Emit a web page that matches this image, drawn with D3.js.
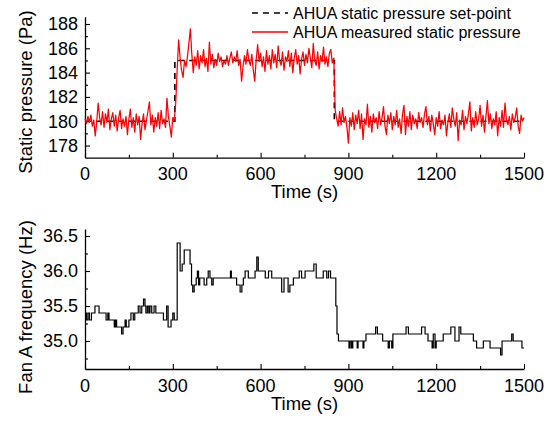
<!DOCTYPE html>
<html><head><meta charset="utf-8">
<script src="https://cdn.jsdelivr.net/npm/d3@7"></script>
<style>
body{margin:0;background:#fff;}
svg{display:block;font-family:"Liberation Sans",Arial,sans-serif;}
</style></head>
<body><svg id="c" width="555" height="421"></svg>
<script>
// ---- data ----
const spTime = [0, 307, 307, 852, 852, 1500];
const spValue = [180, 180, 185, 185, 180, 180];

const pTime = [
0,5,10,15,20,25,30,35,40,45,50,55,60,65,70,75,80,85,90,95,
100,105,110,115,120,125,130,135,140,145,150,155,160,165,170,175,180,185,190,195,
200,205,210,215,220,225,230,235,240,245,250,255,260,265,270,275,280,285,290,295,
300,305,310,315,320,325,330,335,340,345,350,355,360,365,370,375,380,385,390,395,
400,405,410,415,420,425,430,435,440,445,450,455,460,465,470,475,480,485,490,495,
500,505,510,515,520,525,530,535,540,545,550,555,560,565,570,575,580,585,590,595,
600,605,610,615,620,625,630,635,640,645,650,655,660,665,670,675,680,685,690,695,
700,705,710,715,720,725,730,735,740,745,750,755,760,765,770,775,780,785,790,795,
800,805,810,815,820,825,830,835,840,845,850,855,860,865,870,875,880,885,890,895,
900,905,910,915,920,925,930,935,940,945,950,955,960,965,970,975,980,985,990,995,
1000,1005,1010,1015,1020,1025,1030,1035,1040,1045,1050,1055,1060,1065,1070,1075,1080,1085,1090,1095,
1100,1105,1110,1115,1120,1125,1130,1135,1140,1145,1150,1155,1160,1165,1170,1175,1180,1185,1190,1195,
1200,1205,1210,1215,1220,1225,1230,1235,1240,1245,1250,1255,1260,1265,1270,1275,1280,1285,1290,1295,
1300,1305,1310,1315,1320,1325,1330,1335,1340,1345,1350,1355,1360,1365,1370,1375,1380,1385,1390,1395,
1400,1405,1410,1415,1420,1425,1430,1435,1440,1445,1450,1455,1460,1465,1470,1475,1480,1485,1490,1495,
1500];
const pValue = [
180.2,179.8,180.4,179.9,180.5,179.6,180.1,178.8,179.9,181.5,
180.3,179.7,180.8,179.5,180.6,179.9,181.0,179.3,180.2,180.7,
179.6,180.5,179.2,180.3,180.9,179.4,180.2,179.6,180.4,178.9,
180.2,181.0,179.5,180.3,179.1,180.6,179.7,180.4,178.5,179.8,
180.6,179.3,180.1,180.8,181.6,179.7,180.5,179.1,180.3,179.6,
180.7,179.4,180.9,179.8,180.2,179.5,181.9,180.4,179.6,178.7,
180.3,180.1,181.5,184.3,186.7,185.2,184.2,183.6,185.0,184.5,
185.3,186.4,187.6,185.5,184.0,185.3,184.6,185.8,184.3,185.4,
184.8,185.9,184.5,185.2,184.1,186.5,184.7,185.5,184.4,185.1,
184.6,185.6,184.9,185.3,184.5,185.0,184.7,185.4,184.6,185.2,
185.7,184.8,185.3,184.9,185.8,184.6,185.1,183.3,184.5,185.4,
184.7,185.9,185.0,184.6,185.5,184.2,183.3,185.1,186.3,184.9,
185.6,184.5,185.3,184.1,185.8,184.7,185.4,184.3,185.9,184.8,
185.5,184.4,186.2,185.0,184.6,185.7,184.2,185.3,184.9,185.8,
184.5,185.6,184.0,185.2,185.9,184.7,185.4,183.9,185.1,185.7,
184.6,185.5,184.8,186.0,185.2,184.4,186.4,185.0,184.6,185.7,
184.3,185.4,184.9,186.1,184.7,185.3,184.5,185.6,185.9,184.8,
185.2,180.9,180.2,179.6,180.8,179.7,181.1,179.9,180.4,179.5,
178.2,180.3,179.6,180.7,179.3,180.5,179.8,180.9,179.4,180.6,
178.5,180.2,179.7,181.4,179.5,180.4,179.1,180.6,179.9,180.3,
179.4,180.8,179.7,180.3,181.2,179.6,178.9,180.5,179.8,180.7,
179.3,180.4,179.7,180.9,179.5,180.2,179.0,180.6,181.3,178.9,
180.4,179.6,180.8,179.3,180.5,179.8,180.2,179.4,180.7,179.9,
180.3,179.5,180.6,181.2,179.7,180.4,179.2,180.5,179.8,178.9,
180.3,179.6,180.8,179.4,180.1,179.7,180.5,178.8,179.9,180.6,
179.5,181.1,180.2,179.6,180.7,178.4,180.1,179.7,180.9,179.3,
180.4,179.8,180.6,181.6,179.2,180.3,179.5,180.8,179.7,180.2,
181.3,179.6,180.5,179.1,180.4,181.7,179.8,180.6,179.4,180.2,
179.7,180.8,178.8,180.3,179.6,180.9,179.5,181.5,180.1,179.7,
180.4,179.3,180.6,179.9,180.3,181.1,179.6,179.0,180.5,180.0,
180.3];

const fTime = [0,5,10,15,22,34,48,72,78,82,100,104,108,125,130,137,141,150,157,165,170,182,188,194,200,205,208,213,218,222,228,236,242,268,279,284,294,300,305,315,325,332,339,359,364,368,373,380,384,388,392,407,416,421,427,433,438,497,500,518,530,536,541,547,558,581,587,592,616,627,638,672,680,694,700,712,732,740,752,782,790,814,826,832,839,857,861,866,902,906,911,915,930,933,950,953,960,993,999,1017,1036,1040,1048,1052,1097,1105,1150,1162,1172,1186,1190,1196,1200,1224,1250,1264,1278,1284,1327,1338,1361,1384,1420,1425,1458,1463,1493,1500];
const fValue = [35.4,35.3,35.4,35.3,35.4,35.5,35.4,35.3,35.4,35.3,35.2,35.3,35.2,35.1,35.2,35.3,35.2,35.3,35.4,35.3,35.4,35.5,35.4,35.5,35.6,35.5,35.4,35.5,35.4,35.5,35.4,35.5,35.4,35.3,35.5,35.2,35.3,35.4,35.3,36.4,36.0,36.1,36.3,36.1,35.8,35.7,35.8,35.9,36.0,35.8,35.9,35.8,35.9,36.0,35.9,35.8,35.9,36.0,35.9,35.8,35.7,35.8,35.9,36.0,35.9,36.0,36.2,36.0,35.9,36.0,35.9,35.7,35.9,35.7,35.8,35.9,36.0,35.9,36.0,36.1,35.9,36.0,35.9,36.0,35.9,35.5,35.1,35.0,34.9,35.0,34.9,35.0,34.9,35.0,34.9,35.0,35.1,35.2,35.1,35.0,34.9,35.0,34.9,35.1,35.2,35.1,35.2,35.1,35.0,34.9,35.1,34.9,35.0,35.1,35.2,35.0,35.2,35.1,35.0,34.9,35.0,34.9,34.8,35.0,35.1,35.0,34.9,34.9];

const xTicks = [0,300,600,900,1200,1500];
const xMinor = [150,450,750,1050,1350];
const pTicks = [178,180,182,184,186,188];
const pMinor = [179,181,183,185,187];
const fTicks = [35.0,35.5,36.0,36.5];
const fMinor = [34.75,35.25,35.75,36.25];

const legendLabels = ["AHUA static pressure set-point","AHUA measured static pressure"];

// ---- drawing ----
const svg = d3.select("#c");
const x = d3.scaleLinear().domain([0,1500]).range([85,524]);
const yP = d3.scaleLinear().domain([177,188.6]).range([157.7,16.7]);
const yF = d3.scaleLinear().domain([34.6,36.6]).range([369,229]);

function drawAxes(y, yBase, majorY, minorY, fmtY, xLabelY, xTitleY){
  const gx = svg.append("g").attr("transform",`translate(0,${yBase})`)
    .call(d3.axisBottom(x).tickValues(xTicks).tickSizeInner(-5).tickSizeOuter(0).tickFormat(d3.format("d")));
  gx.selectAll("text").remove();
  const gxm = svg.append("g").attr("transform",`translate(0,${yBase})`)
    .call(d3.axisBottom(x).tickValues(xMinor).tickSizeInner(-3).tickSizeOuter(0).tickFormat(""));
  gxm.select(".domain").remove();
  svg.append("g").selectAll("text").data(xTicks).join("text")
    .attr("x",d=>x(d)).attr("y",xLabelY).attr("text-anchor","middle")
    .attr("font-size",18).text(d=>d);
  const gy = svg.append("g").attr("transform","translate(85,0)")
    .call(d3.axisLeft(y).tickValues(majorY).tickSizeInner(-5).tickSizeOuter(0).tickFormat(""));
  const gym = svg.append("g").attr("transform","translate(85,0)")
    .call(d3.axisLeft(y).tickValues(minorY).tickSizeInner(-3).tickSizeOuter(0).tickFormat(""));
  gym.select(".domain").remove();
  svg.append("g").selectAll("text").data(majorY).join("text")
    .attr("x",78).attr("y",d=>y(d)).attr("dy","0.36em").attr("text-anchor","end")
    .attr("font-size",18).text(fmtY);
  svg.append("text").attr("x",304.5).attr("y",xTitleY).attr("text-anchor","middle")
    .attr("font-size",18.5).text("Time (s)");
  svg.selectAll(".domain").attr("stroke","#000").attr("stroke-width",1.3);
  svg.selectAll(".tick line").attr("stroke","#000").attr("stroke-width",1.1);
}

drawAxes(yP,157.7,pTicks,pMinor,d=>d,180,198);
drawAxes(yF,369,fTicks,fMinor,d3.format(".1f"),392,410);

svg.append("text").attr("transform","translate(32,92) rotate(-90)")
  .attr("text-anchor","middle").attr("font-size",18.5).text("Static pressure (Pa)");
svg.append("text").attr("transform","translate(32,307) rotate(-90)")
  .attr("text-anchor","middle").attr("font-size",18.5).text("Fan A frequency (Hz)");

// setpoint
const spData = spTime.map((t,i)=>[t,spValue[i]]);
svg.append("path").datum(spData)
  .attr("fill","none").attr("stroke","#000").attr("stroke-width",1.6)
  .attr("stroke-dasharray","6,5")
  .attr("d",d3.line().x(d=>x(d[0])).y(d=>yP(d[1])));

// measured
const pData = pTime.map((t,i)=>[t,pValue[i]]);
svg.append("path").datum(pData)
  .attr("fill","none").attr("stroke","#ff0000").attr("stroke-width",1.25)
  .attr("stroke-linejoin","round")
  .attr("d",d3.line().x(d=>x(d[0])).y(d=>yP(d[1])));

// frequency
const fData = fTime.map((t,i)=>[t,fValue[i]]);
svg.append("path").datum(fData)
  .attr("fill","none").attr("stroke","#000").attr("stroke-width",1.2)
  .attr("d",d3.line().curve(d3.curveStepAfter).x(d=>x(d[0])).y(d=>yF(d[1])));

// legend
const lg = svg.append("g");
lg.append("line").attr("x1",252).attr("x2",288).attr("y1",13).attr("y2",13)
  .attr("stroke","#000").attr("stroke-width",1.6).attr("stroke-dasharray","6,5");
lg.append("line").attr("x1",252).attr("x2",288).attr("y1",32).attr("y2",32)
  .attr("stroke","#ff0000").attr("stroke-width",1.3);
lg.selectAll("text").data(legendLabels).join("text")
  .attr("x",293).attr("y",(d,i)=>13+i*19).attr("dy","0.35em")
  .attr("font-size",16).text(d=>d);
</script></body></html>
